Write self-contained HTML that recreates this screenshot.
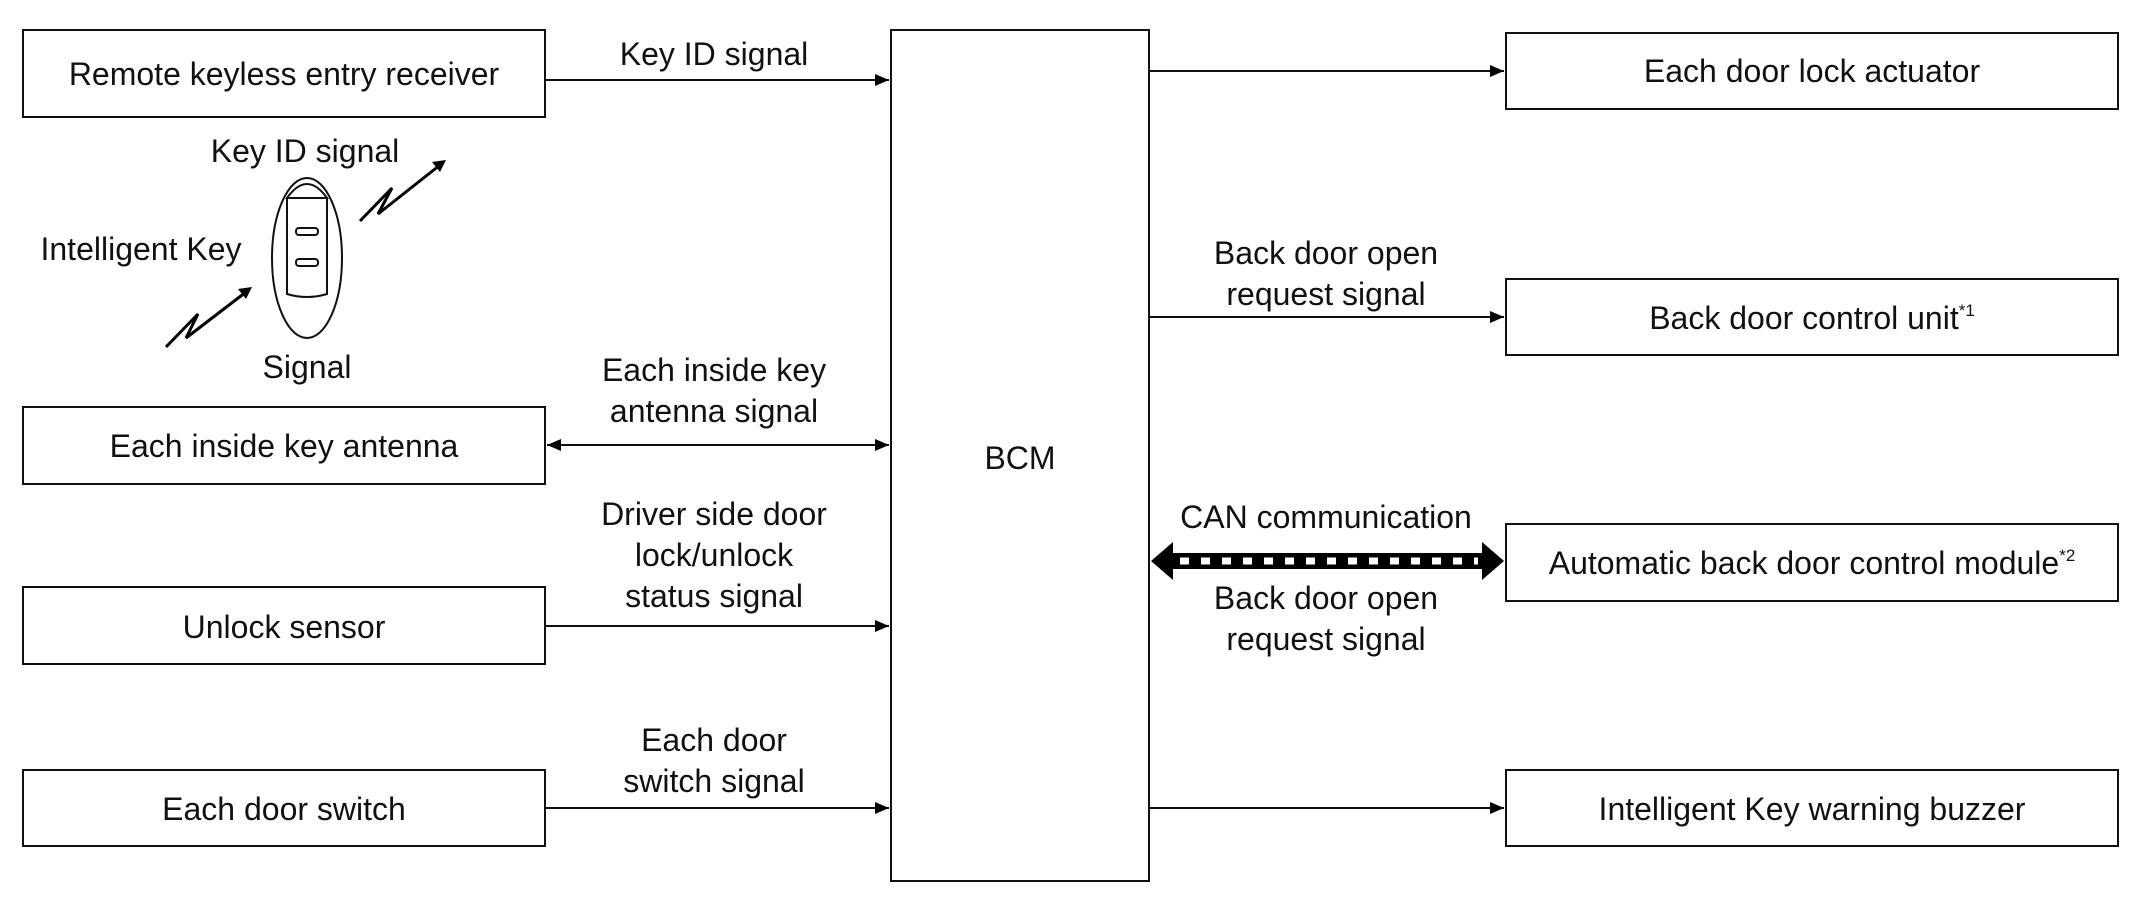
<!DOCTYPE html>
<html><head><meta charset="utf-8"><style>
html,body{margin:0;padding:0;background:#fff;}
svg{display:block;}
text{font-family:"Liberation Sans",sans-serif;font-size:32px;fill:#111;text-anchor:middle;}
</style></head><body>
<svg width="2130" height="897" viewBox="0 0 2130 897" xmlns="http://www.w3.org/2000/svg">
<defs>
<marker id="a" markerWidth="14" markerHeight="12" refX="14" refY="6" orient="auto" markerUnits="userSpaceOnUse"><path d="M0,0 L14,6 L0,12 Z" fill="#000"/></marker>
<marker id="b" markerWidth="14" markerHeight="12" refX="0" refY="6" orient="auto" markerUnits="userSpaceOnUse"><path d="M14,0 L0,6 L14,12 Z" fill="#000"/></marker>
</defs>
<g fill="none" stroke="#111" stroke-width="2">
<rect x="23" y="30" width="522" height="87"/>
<rect x="23" y="407" width="522" height="77"/>
<rect x="23" y="587" width="522" height="77"/>
<rect x="23" y="770" width="522" height="76"/>
<rect x="891" y="30" width="258" height="851"/>
<rect x="1506" y="33" width="612" height="76"/>
<rect x="1506" y="279" width="612" height="76"/>
<rect x="1506" y="524" width="612" height="77"/>
<rect x="1506" y="770" width="612" height="76"/>
</g>
<g stroke="#111" stroke-width="2">
<line x1="545" y1="80" x2="889" y2="80" marker-end="url(#a)"/>
<line x1="547" y1="445" x2="889" y2="445" marker-end="url(#a)" marker-start="url(#b)"/>
<line x1="545" y1="626" x2="889" y2="626" marker-end="url(#a)"/>
<line x1="545" y1="808" x2="889" y2="808" marker-end="url(#a)"/>
<line x1="1149" y1="71" x2="1504" y2="71" marker-end="url(#a)"/>
<line x1="1149" y1="317" x2="1504" y2="317" marker-end="url(#a)"/>
<line x1="1149" y1="808" x2="1504" y2="808" marker-end="url(#a)"/>
</g>
<path d="M1151,561 L1173,542 L1173,580 Z M1504,561 L1482,542 L1482,580 Z" fill="#000"/>
<rect x="1173" y="553" width="309" height="16" fill="#000"/>
<line x1="1180" y1="561" x2="1478" y2="561" stroke="#fff" stroke-width="7" stroke-dasharray="9,12"/>
<g fill="none" stroke="#111" stroke-width="2">
<ellipse cx="307" cy="258" rx="35" ry="80"/>
<path d="M287,198 Q307,170 327,198 Z"/>
<path d="M287,198 L287,294 Q307,300 327,294 L327,198"/>
<rect x="296" y="228" width="22" height="7" rx="3"/>
<rect x="296" y="259" width="22" height="7" rx="3"/>
</g>
<g stroke="#000" stroke-width="3" fill="none">
<polyline points="360,221 392,188 378,214 440,165"/>
<polyline points="166,347 198,314 186,338 246,292"/>
</g>
<path d="M446,160 L432,162 L440,172 Z M252,287 L238,289 L246,299 Z" fill="#000"/>
<text x="284" y="85">Remote keyless entry receiver</text>
<text x="284" y="457">Each inside key antenna</text>
<text x="284" y="638">Unlock sensor</text>
<text x="284" y="820">Each door switch</text>
<text x="1020" y="469">BCM</text>
<text x="1812" y="82">Each door lock actuator</text>
<text x="1812" y="329">Back door control unit<tspan font-size="17" dy="-13">*1</tspan></text>
<text x="1812" y="574">Automatic back door control module<tspan font-size="17" dy="-13">*2</tspan></text>
<text x="1812" y="820">Intelligent Key warning buzzer</text>
<text x="714" y="65">Key ID signal</text>
<text x="305" y="162">Key ID signal</text>
<text x="141" y="260">Intelligent Key</text>
<text x="307" y="378">Signal</text>
<text x="714" y="381">Each inside key</text>
<text x="714" y="422">antenna signal</text>
<text x="714" y="525">Driver side door</text>
<text x="714" y="566">lock/unlock</text>
<text x="714" y="607">status signal</text>
<text x="714" y="751">Each door</text>
<text x="714" y="792">switch signal</text>
<text x="1326" y="264">Back door open</text>
<text x="1326" y="305">request signal</text>
<text x="1326" y="528">CAN communication</text>
<text x="1326" y="609">Back door open</text>
<text x="1326" y="650">request signal</text>
</svg>
</body></html>
